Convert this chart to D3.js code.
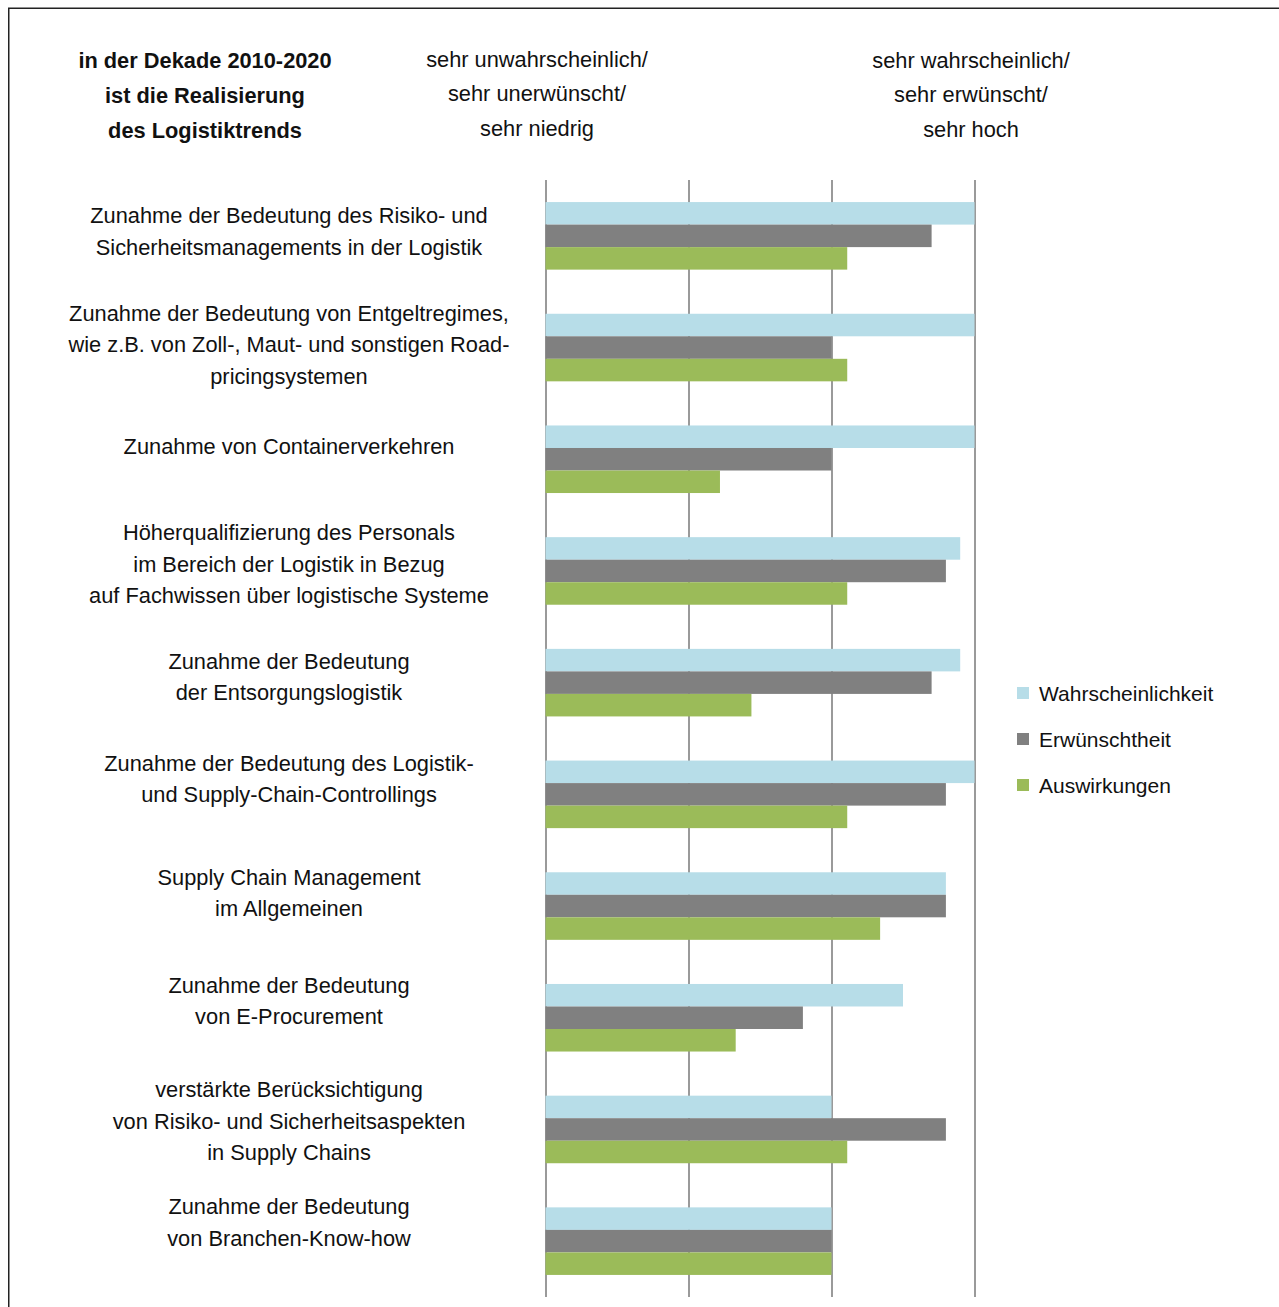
<!DOCTYPE html>
<html>
<head>
<meta charset="utf-8">
<script src="https://cdn.jsdelivr.net/npm/d3@7"></script>
<style>
  html, body { margin: 0; padding: 0; background: #fff; }
  svg { display: block; }
  text { font-family: "Liberation Sans", Arial, sans-serif; fill: #111; }
</style>
</head>
<body>
<svg id="chart" width="1279" height="1307"></svg>
<script>
// ---- data ----
const categories = [
  ["Zunahme der Bedeutung des Risiko- und", "Sicherheitsmanagements in der Logistik"],
  ["Zunahme der Bedeutung von Entgeltregimes,", "wie z.B. von Zoll-, Maut- und sonstigen Road-", "pricingsystemen"],
  ["Zunahme von Containerverkehren"],
  ["Höherqualifizierung des Personals", "im Bereich der Logistik in Bezug", "auf Fachwissen über logistische Systeme"],
  ["Zunahme der Bedeutung", "der Entsorgungslogistik"],
  ["Zunahme der Bedeutung des Logistik-", "und Supply-Chain-Controllings"],
  ["Supply Chain Management", "im Allgemeinen"],
  ["Zunahme der Bedeutung", "von E-Procurement"],
  ["verstärkte Berücksichtigung", "von Risiko- und Sicherheitsaspekten", "in Supply Chains"],
  ["Zunahme der Bedeutung", "von Branchen-Know-how"]
];
const seriesNames = ["Wahrscheinlichkeit", "Erwünschtheit", "Auswirkungen"];
const wahrscheinlichkeit = [4.0, 4.0, 4.0, 3.9, 3.9, 4.0, 3.8, 3.5, 3.0, 3.0];
const erwuenschtheit     = [3.7, 3.0, 3.0, 3.8, 3.7, 3.8, 3.8, 2.8, 3.8, 3.0];
const auswirkungen       = [3.11, 3.11, 2.22, 3.11, 2.44, 3.11, 3.34, 2.33, 3.11, 3.0];
const scaleTicks = [1, 2, 3, 4];
const headerLeft  = ["in der Dekade 2010-2020", "ist die Realisierung", "des Logistiktrends"];
const headerLow   = ["sehr unwahrscheinlich/", "sehr unerwünscht/", "sehr niedrig"];
const headerHigh  = ["sehr wahrscheinlich/", "sehr erwünscht/", "sehr hoch"];

// ---- layout / style (not data) ----
const colors = ["#B7DDE8", "#808080", "#9BBB59"];
const labelShift = [-4.85, -3.05, -13.25, -6.95, -6.15, -15.85, -13.55, -17.25, -8.45, -19.15];
const FS = 21.8;
const LINE = 31.4;

const svg = d3.select("#chart");

// frame (extends beyond right/bottom edge)
svg.append("rect")
  .attr("x", 8.75).attr("y", 8.25)
  .attr("width", 1300).attr("height", 1330)
  .attr("fill", "none").attr("stroke", "#222").attr("stroke-width", 1.5);

const x = d3.scaleLinear().domain([1, 4]).range([545.5, 974.5]);
const idx = d3.range(categories.length);
const y = d3.scaleBand().domain(idx).range([180, 1297]).padding(0);
const ySub = d3.scaleBand().domain(d3.range(3)).range([0, y.bandwidth()]).paddingInner(0).paddingOuter(0.98);

const seriesData = [wahrscheinlichkeit, erwuenschtheit, auswirkungen];

// gridlines via axis
const gridAxis = d3.axisBottom(x).tickValues(scaleTicks).tickSize(-(1297 - 180)).tickFormat("");
const gg = svg.append("g").attr("transform", "translate(0,1297)").call(gridAxis);
gg.select(".domain").remove();
gg.selectAll(".tick line").attr("stroke", "#8f8f8f").attr("stroke-width", 1.8);

// bars
const groups = svg.append("g").selectAll("g")
  .data(idx).join("g")
  .attr("transform", d => `translate(0,${y(d)})`);

groups.selectAll("rect")
  .data(i => seriesData.map((s, k) => ({ k, v: s[i] })))
  .join("rect")
  .attr("x", x(1))
  .attr("y", d => ySub(d.k))
  .attr("width", d => x(d.v) - x(1))
  .attr("height", ySub.bandwidth())
  .attr("fill", d => colors[d.k]);

// category labels
const labelG = svg.append("g");
idx.forEach(i => {
  const lines = categories[i];
  const cy = y(i) + y.bandwidth() / 2 + labelShift[i];
  const top = cy - (lines.length - 1) * LINE / 2;
  const t = labelG.append("text")
    .attr("text-anchor", "middle")
    .attr("font-size", FS);
  lines.forEach((ln, j) => {
    t.append("tspan").attr("x", 289).attr("y", top + j * LINE + 7.8).text(ln);
  });
});

// headers
function header(lines, cx, baselines, bold) {
  const t = svg.append("text").attr("text-anchor", "middle").attr("font-size", FS)
    .attr("font-weight", bold ? "bold" : "normal");
  lines.forEach((ln, j) => t.append("tspan").attr("x", cx).attr("y", baselines[j]).text(ln));
}
header(headerLeft, 205, [68, 103, 137.5], true);
header(headerLow, 537, [67, 101, 136], false);
header(headerHigh, 971, [68, 102, 137], false);

// legend
const lg = svg.append("g").attr("transform", "translate(1017,693)");
const li = lg.selectAll("g").data(seriesNames).join("g")
  .attr("transform", (d, i) => `translate(0,${i * 46})`);
li.append("rect").attr("x", 0).attr("y", -6).attr("width", 12).attr("height", 12)
  .attr("fill", (d, i) => colors[i]);
li.append("text").attr("x", 22).attr("y", 7.5).attr("font-size", 21).text(d => d);
</script>
</body>
</html>
